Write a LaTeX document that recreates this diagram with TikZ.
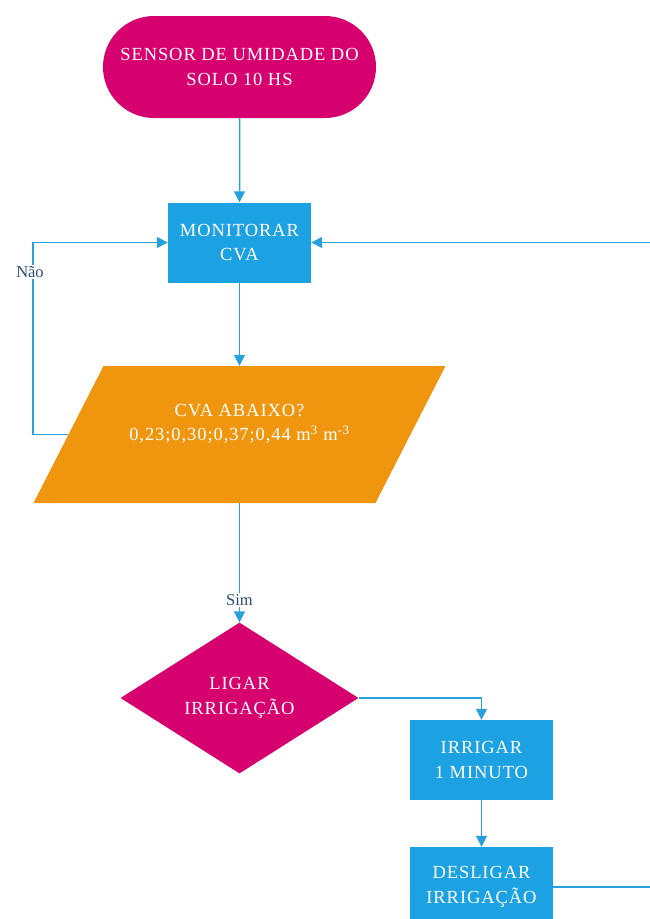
\documentclass[tikz,border=0pt]{standalone}
\usepackage{fontspec}
\setmainfont{Liberation Serif}
\newfontfamily\boxfont[LetterSpace=5]{Liberation Serif}
\usetikzlibrary{shapes.geometric,shapes.misc,arrows.meta}
\definecolor{mag}{RGB}{214,0,111}
\definecolor{blu}{RGB}{28,161,226}
\definecolor{ora}{RGB}{240,150,14}
\definecolor{lin}{RGB}{40,160,222}
\definecolor{lab}{RGB}{45,75,115}
\begin{document}
\begin{tikzpicture}[x=1pt,y=-1pt,
  txt/.style={text=white,align=center,font=\boxfont\fontsize{18.5}{24.5}\selectfont,inner sep=0pt},
  term/.style={txt,rounded rectangle,fill=mag,minimum width=273pt,minimum height=102pt},
  procbox/.style={txt,rectangle,fill=blu,minimum width=143pt,minimum height=80pt},
  decis/.style={txt,diamond,fill=mag,minimum width=238pt,minimum height=136pt},
  conn/.style={draw=lin,line width=1.5pt,-{Triangle[length=11pt,width=11pt]}},
  lbl/.style={text=lab,fill=white,font=\fontsize{16.5}{18}\selectfont,inner sep=1.5pt}]
\useasboundingbox (0,0) rectangle (650,919);
\clip (0,0) rectangle (650,919);
\fill[white] (0,0) rectangle (650,919);

\node[term] (t) at (239.5,67) {SENSOR DE UMIDADE DO\\SOLO 10 HS};
\node[procbox] (m) at (239.5,242.5) {MONITORAR\\CVA};
\fill[ora] (103.5,366) -- (445.5,366) -- (375.5,503) -- (33.5,503) -- cycle;
\node[rectangle,minimum width=342pt,minimum height=137pt,inner sep=0pt] (p) at (239.5,434.5) {};
\node[txt] (ptxt) at (239.5,424) {CVA ABAIXO?\\0,23;0,30;0,37;0,44 m\textsuperscript{3} m\textsuperscript{-3}};
\node[decis] (dia) at (239.5,698) {LIGAR\\IRRIGAÇÃO};
\node[procbox] (i) at (481.5,760) {IRRIGAR\\1 MINUTO};
\node[procbox] (d) at (481.5,887) {DESLIGAR\\IRRIGAÇÃO};

\draw[conn] (t) -- (m);
\draw[conn] (m) -- (p.north);
\draw[conn] (p.west) -- (33,434.5) |- (m.west);
\node[lbl] (nao) at (30,272) {Não};
\draw[conn] (p.south) -- (dia.north);
\node[lbl] (sim) at (239.5,600) {Sim};
\draw[conn] (dia.east) -| (i.north);
\draw[conn] (i) -- (d);
\draw[conn] (d.east) -- (670,887) |- (m.east);
\end{tikzpicture}
\end{document}
